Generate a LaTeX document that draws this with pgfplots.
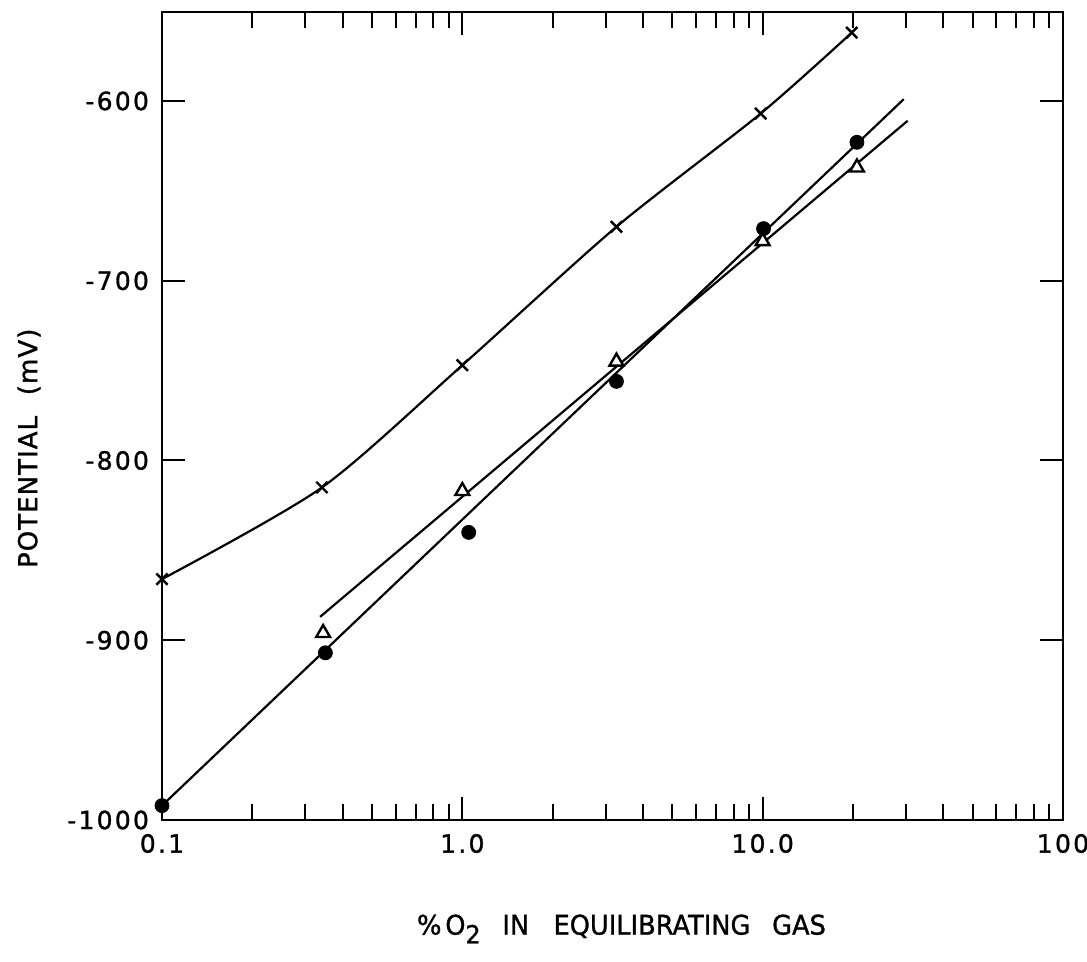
\documentclass[border=0pt]{standalone}
\usepackage{fontspec}
\setmainfont{DejaVu Sans}[FakeBold=1.2]
\newfontfamily\tickfont{DejaVu Sans}[LetterSpace=9,FakeBold=1.2]
\newfontfamily\ylabfont{DejaVu Sans}[LetterSpace=4,FakeBold=1.2]
\newfontfamily\xlabfont{DejaVu Sans}[FakeBold=1.2]
\usepackage{graphicx}
\usepackage{pgfplots}
\pgfplotsset{compat=1.18}
\begin{document}
\begin{tikzpicture}
\path[use as bounding box] (-81pt,-71pt) rectangle (462.5pt,410pt);
\begin{axis}[
  at={(0,0)}, anchor=south west,
  scale only axis, width=450.5pt, height=404pt,
  xmode=log, xmin=0.1, xmax=100, ymin=-1000, ymax=-550.5,
  xtick={0.1,1,10,100}, xticklabels={0.1,1.0,10.0,100},
  minor xtick={0.2,0.3,0.4,0.5,0.6,0.7,0.8,0.9,2,3,4,5,6,7,8,9,20,30,40,50,60,70,80,90},
  ytick={-1000,-900,-800,-700,-600}, yticklabels={-1000,-900,-800,-700,-600},
  minor ytick={},
  major tick length=11.5pt, minor tick length=8pt,
  tick style={line width=1pt, black},
  axis line style={line width=1.2pt},
  ticklabel style={font=\tickfont\fontsize{12.5}{14}\selectfont},
  xticklabel style={yshift=-3.5pt},
  yticklabel style={xshift=-3pt},
  xlabel={\scalebox{0.95}[1]{\%\hspace{0.15em}O\raisebox{-0.6ex}{\fontsize{12.5}{13}\selectfont 2}\hspace{0.85em}IN\hspace{0.95em}EQUILIBRATING\hspace{0.85em}GAS}},
  ylabel={POTENTIAL\hspace{0.8em}(mV)},
  xlabel style={at={(rel axis cs:0.51,-0.1349)}, anchor=center, font=\xlabfont\fontsize{13.5}{15}\selectfont},
  ylabel style={at={(rel axis cs:-0.1476,0.46)}, anchor=center, font=\ylabfont\fontsize{13}{15}\selectfont},
  clip=false,
]
% curve through x points
\addplot[black, line width=1.1pt, smooth, tension=0.45] coordinates {
  (0.1,-866) (0.341,-815) (1.0,-747) (3.26,-670) (9.85,-607) (19.8,-562)};
\addplot[black, only marks, mark=x, mark size=4pt, mark options={line width=1.2pt}] coordinates {
  (0.1,-866) (0.341,-815) (1.0,-747) (3.26,-670) (9.85,-607) (19.8,-562)};
% fit line for dots
\addplot[black, line width=1.1pt] coordinates {(0.1,-992) (29.5,-599)};
% fit line for triangles
\addplot[black, line width=1.1pt] coordinates {(0.336,-887) (30.4,-611)};
% dots
\addplot[black, only marks, mark=*, mark size=3.5pt] coordinates {
  (0.1,-992) (0.35,-907) (1.05,-840) (3.26,-756) (10.07,-671) (20.6,-623)};
% triangles
\addplot[black, only marks, mark=triangle*, mark size=4pt, mark options={line width=1.2pt, fill=white}] coordinates {
  (0.344,-896) (1.0,-817) (3.26,-745) (10.0,-678) (20.6,-637)};
\end{axis}
\end{tikzpicture}
\end{document}
